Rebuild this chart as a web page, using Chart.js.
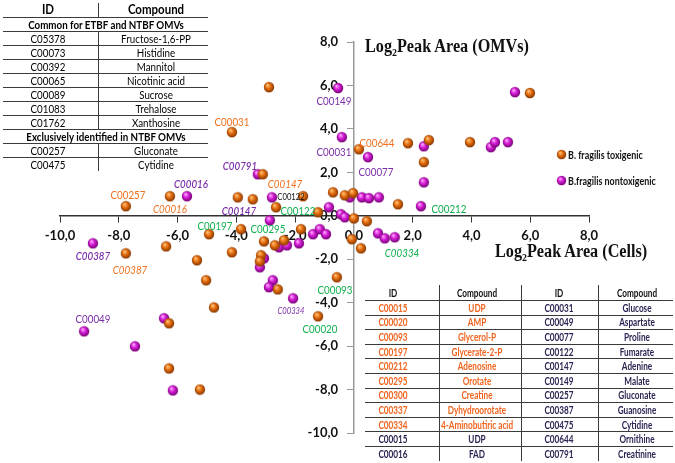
<!DOCTYPE html>
<html>
<head>
<meta charset="utf-8">
<script src="https://cdn.jsdelivr.net/npm/chart.js@4.4.0/dist/chart.umd.min.js"></script>
<style>
  body { margin: 0; background: #fff; }
  #wrap { position: relative; width: 675px; height: 463px; overflow: hidden; font-family: Lato, "Open Sans", sans-serif; }
  #chart { position: absolute; left: 0; top: 0; }
  .lbl { position: absolute; white-space: nowrap; line-height: 1; font-size: 11.5px; transform: translate(-50%, -50%) scaleX(0.85); }
  .cell { position: absolute; white-space: nowrap; line-height: 1; transform: translate(-50%, -50%) scaleX(0.85); }
  .cell.narrow { transform: translate(-50%, -50%) scaleX(0.78); }
  .hline { position: absolute; height: 1px; background: #3a3a3a; }
  .vline { position: absolute; width: 1px; background: #3a3a3a; }
  .title { position: absolute; white-space: nowrap; font-family: "Liberation Serif", "DejaVu Serif", serif; font-weight: bold; font-size: 18px; line-height: 1; transform-origin: left center; transform: translateY(-50%) scaleX(0.9); color: #111; }
  .title sub { font-size: 11px; vertical-align: -4px; }
  .leg { position: absolute; white-space: nowrap; font-weight: bold; font-size: 10.5px; line-height: 1; transform-origin: left center; transform: translateY(-50%) scaleX(0.85); color: #111; }
  .legdot { position: absolute; width: 11px; height: 11px; }
</style>
</head>
<body>
<div id="wrap">
  <canvas id="chart" width="675" height="463"></canvas>
</div>
<script>
// === Data ===
const xTicks = [-10, -8, -6, -4, -2, 0, 2, 4, 6, 8];
const yTicks = [-10, -8, -6, -4, -2, 0, 2, 4, 6, 8];

// B. fragilis toxigenic [cells, OMVs]
const toxigenic = [
  [-2.89, 5.92], [-4.15, 3.85], [0.17, 3.06], [1.84, 3.34], [2.55, 3.48], [3.95, 3.39],
  [2.38, 2.47], [5.99, 5.65], [1.5, 0.53], [-0.71, 1.08], [-0.31, 0.94], [-0.03, 1.04],
  [0.0, -0.12], [0.44, -0.25], [-0.07, -1.08], [0.24, -1.5], [-1.73, 0.9], [-1.22, 0.16],
  [-3.1, 1.91], [-3.95, 0.85], [-3.44, 0.76], [-2.65, 0.39], [-3.84, -0.62], [-4.93, -0.85],
  [-3.06, -1.18], [-2.69, -1.36], [-2.38, -1.13], [-1.8, -0.62], [-6.39, -1.41], [-7.76, -1.73],
  [-7.76, 0.44], [-6.26, 0.9], [-4.15, -1.68], [-5.34, -2.05], [-5.03, -2.97], [-4.76, -4.22],
  [-3.16, -1.82], [-3.2, -2.1], [-2.59, -3.39], [-1.22, -4.63], [-0.58, -2.83], [-6.29, -4.95],
  [-6.29, -7.03], [-5.24, -8.0]
];

// B. fragilis nontoxigenic [cells, OMVs]
const nontoxigenic = [
  [-3.27, 1.91], [-2.79, 0.85], [-0.14, 0.85], [-0.85, 0.39], [-2.86, -0.21], [-0.44, 0.07],
  [-0.31, -0.07], [-1.39, -0.85], [-1.16, -0.62], [-0.95, -0.85], [-2.55, -1.45], [-2.28, -1.36],
  [-1.87, -1.27], [-8.88, -1.27], [-5.68, 0.9], [-3.06, -1.96], [-3.2, -2.37], [-2.76, -2.97],
  [-2.89, -3.29], [-2.07, -3.8], [-9.18, -5.32], [-7.45, -6.01], [-6.46, -4.72], [-6.16, -8.04],
  [-0.54, 5.88], [-0.41, 3.62], [0.48, 2.7], [2.38, 3.2], [2.38, 1.54], [2.28, 0.44],
  [5.48, 5.69], [4.66, 3.16], [4.8, 3.39], [5.24, 3.39], [0.27, 0.85], [0.51, 0.81],
  [0.85, 0.85], [0.82, -0.81], [1.05, -1.04], [1.39, -0.99]
];

// compound labels: [text, cells, OMVs, group, italic]
const pointLabels = [
  ["C00031", -4.15, 4.31, "orange", false],
  ["C00149", -0.68, 5.28, "purple", false],
  ["C00031", -0.68, 2.93, "purple", false],
  ["C00644", 0.78, 3.34, "orange", false],
  ["C00077", 0.75, 2.0, "purple", false],
  ["C00212", 3.23, 0.3, "green", false],
  ["C00334", 1.63, -1.73, "green", true],
  ["C00093", -0.65, -3.43, "green", false],
  ["C00020", -1.16, -5.23, "green", false],
  ["C00334", -2.14, -4.35, "purpleSmall", true],
  ["C00791", -3.88, 2.28, "purple", true],
  ["C00147", -2.35, 1.45, "orange", true],
  ["C00122", -2.14, 0.9, "blackSmall", false],
  ["C00122", -1.9, 0.21, "green", false],
  ["C00147", -3.91, 0.21, "purple", true],
  ["C00197", -4.73, -0.48, "green", false],
  ["C00295", -2.93, -0.62, "green", false],
  ["C00016", -5.54, 1.45, "purple", true],
  ["C00257", -7.69, 0.94, "orange", false],
  ["C00016", -6.26, 0.3, "orange", true],
  ["C00387", -8.88, -1.87, "purple", true],
  ["C00387", -7.62, -2.51, "orange", true],
  ["C00049", -8.88, -4.77, "purple", false]
];

const seriesNames = ["B. fragilis toxigenic", "B.fragilis nontoxigenic"];

// top-left table
const topHeader = ["ID", "Compound"];
const commonTitle = "Common for ETBF and NTBF OMVs";
const commonRows = [
  ["C05378", "Fructose-1,6-PP"], ["C00073", "Histidine"], ["C00392", "Mannitol"],
  ["C00065", "Nicotinic acid"], ["C00089", "Sucrose"], ["C01083", "Trehalose"], ["C01762", "Xanthosine"]
];
const exclusiveTitle = "Exclusively identified in NTBF OMVs";
const exclusiveRows = [["C00257", "Gluconate"], ["C00475", "Cytidine"]];

// bottom-right table
const bottomHeader = ["ID", "Compound", "ID", "Compound"];
const bottomLeftRows = [
  ["C00015", "UDP", true], ["C00020", "AMP", true], ["C00093", "Glycerol-P", true],
  ["C00197", "Glycerate-2-P", true], ["C00212", "Adenosine", true], ["C00295", "Orotate", true],
  ["C00300", "Creatine", true], ["C00337", "Dyhydroorotate", true], ["C00334", "4-Aminobutiric acid", true],
  ["C00015", "UDP", false], ["C00016", "FAD", false]
];
const bottomRightRows = [
  ["C00031", "Glucose"], ["C00049", "Aspartate"], ["C00077", "Proline"], ["C00122", "Fumarate"],
  ["C00147", "Adenine"], ["C00149", "Malate"], ["C00257", "Gluconate"], ["C00387", "Guanosine"],
  ["C00475", "Cytidine"], ["C00644", "Ornithine"], ["C00791", "Creatinine"]
];

// === Styles ===
const labelColors = {
  orange: "#f0701e", purple: "#7a2ea8", green: "#10b04c",
  purpleSmall: "#7a2ea8", blackSmall: "#111"
};

function sphere(light, base, dark) {
  const c = document.createElement("canvas");
  c.width = 12;
  c.height = 12;
  const g = c.getContext("2d");
  const grd = g.createRadialGradient(4.4, 3.9, 0.4, 6, 6, 5.6);
  grd.addColorStop(0, light);
  grd.addColorStop(0.45, base);
  grd.addColorStop(1, dark);
  g.fillStyle = grd;
  g.beginPath();
  g.arc(6, 6, 5.2, 0, Math.PI * 2);
  g.fill();
  return c;
}
const orangeBall = sphere("#ffc27a", "#e46c0c", "#7a3000");
const magentaBall = sphere("#ffa6ff", "#d41cd4", "#6a006a");

const fmt = (v) => v.toFixed(1).replace(".", ",");
const tickFont = { family: "Lato", size: 13, weight: "bold" };

// === Chart ===
const chart = new Chart(document.getElementById("chart"), {
  type: "scatter",
  data: {
    datasets: [
      {
        label: seriesNames[0],
        data: toxigenic.map((p) => ({ x: p[0], y: p[1] })),
        pointStyle: orangeBall,
      },
      {
        label: seriesNames[1],
        data: nontoxigenic.map((p) => ({ x: p[0], y: p[1] })),
        pointStyle: magentaBall,
      },
    ],
  },
  options: {
    responsive: false,
    animation: false,
    layout: { padding: { left: 60, right: 86, top: 42, bottom: 30 } },
    plugins: { legend: { display: false }, tooltip: { enabled: false } },
    scales: {
      x: {
        type: "linear",
        min: -10,
        max: 8,
        position: { y: 0 },
        afterBuildTicks: (s) => { s.ticks = xTicks.map((v) => ({ value: v })); },
        grid: { drawOnChartArea: false, drawTicks: true, tickLength: 6, color: "#333" },
        border: { color: "#333", width: 1.5 },
        ticks: { color: "#111", font: tickFont, padding: 6, maxRotation: 0, autoSkip: false, callback: fmt },
      },
      y: {
        type: "linear",
        min: -10,
        max: 8,
        position: { x: 0 },
        afterBuildTicks: (s) => { s.ticks = yTicks.map((v) => ({ value: v })); },
        grid: { drawOnChartArea: false, drawTicks: true, tickLength: 6, color: "#999" },
        border: { color: "#999", width: 1.5 },
        // a centred axis ignores tick padding, so trailing spaces keep the labels off the line
        ticks: { color: "#111", font: tickFont, autoSkip: false, callback: (v) => fmt(v) + "     " },
      },
    },
  },
});

// === Overlays (real text) ===
const wrap = document.getElementById("wrap");

function addEl(cls, html, css) {
  const el = document.createElement("div");
  el.className = cls;
  el.innerHTML = html;
  Object.assign(el.style, css);
  wrap.appendChild(el);
  return el;
}

// compound labels placed through the chart scales
pointLabels.forEach(([text, x, y, group, italic]) => {
  const small = group === "purpleSmall" || group === "blackSmall";
  addEl("lbl", text, {
    left: chart.scales.x.getPixelForValue(x) + "px",
    top: chart.scales.y.getPixelForValue(y) + "px",
    color: labelColors[group],
    fontStyle: italic ? "italic" : "normal",
    fontWeight: group === "purple" && italic ? "600" : "normal",
    fontSize: small ? "9px" : "11.5px",
  });
});

// axis titles
addEl("title", "Log<sub>2</sub>Peak Area (OMVs)", { left: "365px", top: "47px" });
addEl("title", "Log<sub>2</sub>Peak Area (Cells)", { left: "495px", top: "252px" });

// legend
[orangeBall, magentaBall].forEach((ball, i) => {
  const y = 155 + i * 26;
  const img = document.createElement("img");
  img.className = "legdot";
  img.src = ball.toDataURL();
  Object.assign(img.style, { left: "556px", top: y - 6 + "px" });
  wrap.appendChild(img);
  addEl("leg", seriesNames[i], { left: "568px", top: y + "px" });
});

// top-left table
(function () {
  const left = 3, right = 208, mid = 98, c1 = 48, c2 = 156;
  const rowH = 14;
  addEl("cell", topHeader[0], { left: c1 + "px", top: "10px", fontWeight: "bold", fontSize: "13.5px" });
  addEl("cell", topHeader[1], { left: c2 + "px", top: "10px", fontWeight: "bold", fontSize: "13.5px" });
  addEl("vline", "", { left: mid + "px", top: "3px", height: "14px" });
  let y = 17;
  addEl("hline", "", { left: left + "px", top: y + "px", width: right - left + "px" });
  const rows = [[commonTitle]].concat(commonRows, [[exclusiveTitle]], exclusiveRows);
  rows.forEach((r, i) => {
    const cy = y + rowH / 2 + 0.5;
    if (r.length === 1) {
      addEl("cell", r[0], { left: (left + right) / 2 + "px", top: cy + "px", fontWeight: "bold", fontSize: "11.5px" });
    } else {
      addEl("cell", r[0], { left: c1 + "px", top: cy + "px", fontSize: "11.5px" });
      addEl("cell", r[1], { left: c2 + "px", top: cy + "px", fontSize: "11.5px" });
      addEl("vline", "", { left: mid + "px", top: y + "px", height: rowH + "px" });
    }
    y += rowH;
    if (i < rows.length - 1) addEl("hline", "", { left: left + "px", top: y + "px", width: right - left + "px" });
  });
})();

// bottom-right table
(function () {
  const left = 365, right = 673, cols = [393, 477, 559, 637], dividers = [439, 521, 598];
  const top = 285, headH = 15, rowH = 14.6;
  const bottom = top + headH + rowH * bottomLeftRows.length;
  const cell = (text, x, y, color) =>
    addEl("cell narrow", text, { left: x + "px", top: y + "px", fontWeight: "bold", fontSize: "10.5px", color: color });
  dividers.forEach((d) => addEl("vline", "", { left: d + "px", top: top + "px", height: bottom - top + "px" }));
  bottomHeader.forEach((h, i) => cell(h, cols[i], top + 8, "#111"));
  let y = top + headH;
  addEl("hline", "", { left: left + "px", top: y + "px", width: right - left + "px" });
  bottomLeftRows.forEach((r, i) => {
    const cy = y + rowH / 2 + 0.5;
    const col = r[2] ? "#f0641e" : "#2b2553";
    cell(r[0], cols[0], cy, col);
    cell(r[1], cols[1], cy, col);
    cell(bottomRightRows[i][0], cols[2], cy, "#2b2553");
    cell(bottomRightRows[i][1], cols[3], cy, "#2b2553");
    y += rowH;
    if (i < bottomLeftRows.length - 1) addEl("hline", "", { left: left + "px", top: Math.round(y) + "px", width: right - left + "px" });
  });
})();
</script>
</body>
</html>
